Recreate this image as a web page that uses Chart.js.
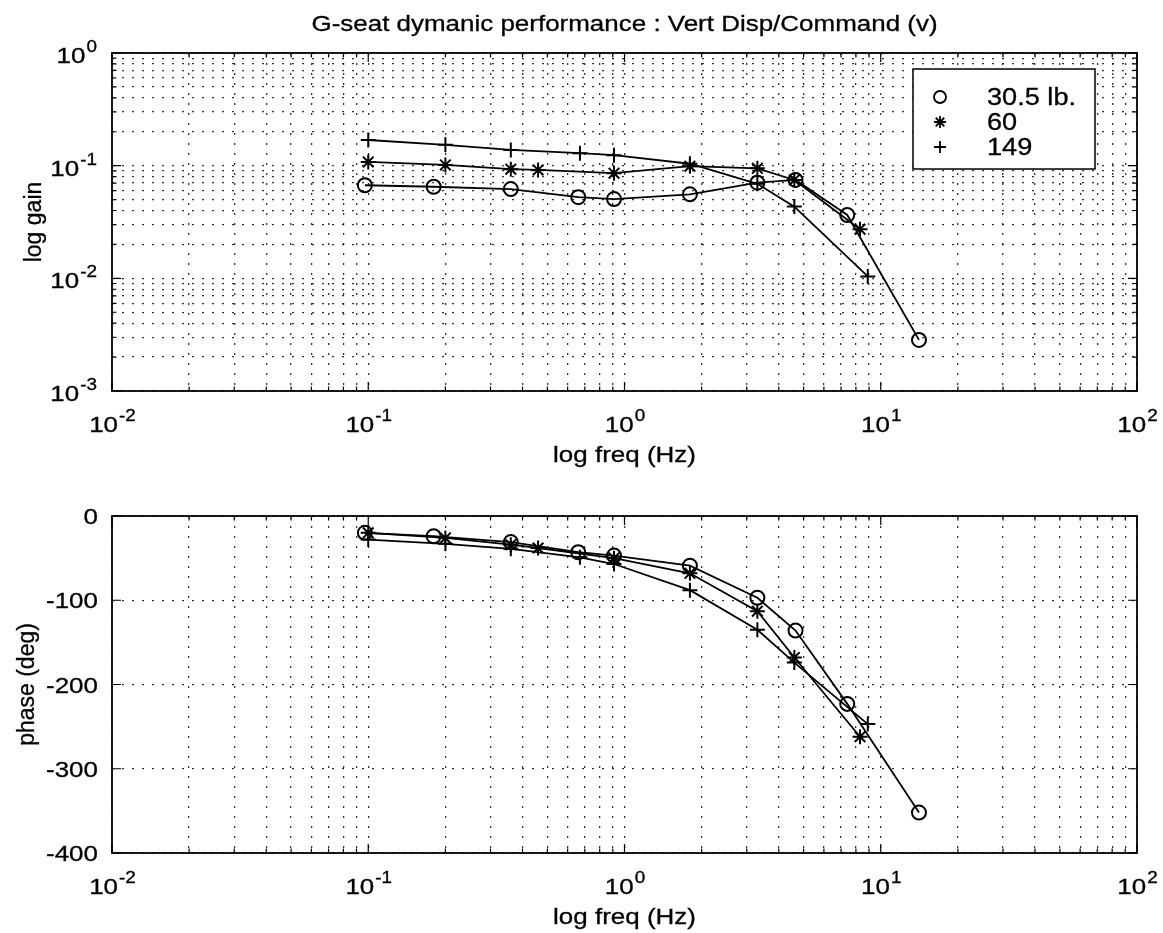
<!DOCTYPE html>
<html>
<head>
<meta charset="utf-8">
<title>G-seat dymanic performance</title>
<script src="https://cdn.jsdelivr.net/npm/chart.js@4.4.1/dist/chart.umd.min.js"></script>
<style>
  html, body { margin: 0; padding: 0; background: #fff; }
  #wrap { position: relative; width: 1163px; height: 933px; }
  canvas { position: absolute; left: 0; top: 0; }
</style>
</head>
<body>
<div id="wrap">
  <canvas id="gainChart" width="1163" height="933"></canvas>
  <canvas id="phaseChart" width="1163" height="933"></canvas>
</div>
<script>
// ---- data ----
const seriesLabels = ['30.5 lb.', '60', '149'];

const freq30 = [0.097, 0.18, 0.36, 0.66, 0.91, 1.8, 3.3, 4.65, 7.4, 14.1];
const gain30 = [0.067, 0.065, 0.062, 0.0525, 0.0505, 0.0557, 0.0706, 0.0747, 0.0365, 0.00284];
const phase30 = [-20, -24, -31, -43, -47, -59, -97, -136, -223, -352];

const freq60 = [0.1, 0.2, 0.36, 0.46, 0.91, 1.8, 3.3, 4.6, 8.3];
const gain60 = [0.108, 0.1015, 0.093, 0.0916, 0.0857, 0.099, 0.0948, 0.0747, 0.0273];
const phase60 = [-20, -26, -34, -38, -50, -68, -113, -168, -262];

const freq149 = [0.1, 0.2, 0.36, 0.67, 0.91, 1.8, 3.3, 4.6, 8.9];
const gain149 = [0.169, 0.153, 0.138, 0.129, 0.124, 0.104, 0.069, 0.0433, 0.0104];
const phase149 = [-28, -33, -39, -49, -57, -88, -135, -174, -247];

// tick labels
const freqExponents = [-2, -1, 0, 1, 2];
const gainExponents = [-3, -2, -1, 0];
const phaseTicks = [0, -100, -200, -300, -400];

const FONT = '"Liberation Sans", Arial, Helvetica, sans-serif';
const SX = 1.18; // the scanned text is a bit wider than it is tall

// grid positions 1..9 x 10^n for a log axis
function logGrid(e0, e1) {
    const out = [];
    for (let e = e0; e < e1; e++) {
        for (let d = 1; d <= 9; d++) out.push(d * Math.pow(10, e));
    }
    out.push(Math.pow(10, e1));
    return out;
}

function isDecade(v) {
    const l = Math.log10(v);
    return Math.abs(l - Math.round(l)) < 1e-9;
}

function series(label, freqs, vals, style, radius) {
    return {
        label: label,
        data: freqs.map((f, i) => ({ x: f, y: vals[i] })),
        showLine: true,
        borderColor: '#000',
        backgroundColor: 'rgba(0,0,0,0)',
        borderWidth: 1.8,
        pointStyle: style,
        pointRadius: radius,
        pointBorderWidth: 2,
        pointBorderColor: '#000',
        pointBackgroundColor: 'rgba(0,0,0,0)',
        tension: 0
    };
}

// horizontal text, stretched a little in x and slightly heavier
function text(ctx, str, x, y, size, align) {
    ctx.save();
    ctx.translate(x, y);
    ctx.scale(SX, 1);
    ctx.font = size + 'px ' + FONT;
    ctx.textAlign = align;
    ctx.textBaseline = 'alphabetic';
    ctx.lineWidth = 0.3;
    ctx.strokeStyle = '#000';
    ctx.fillText(str, 0, 0);
    ctx.strokeText(str, 0, 0);
    ctx.restore();
}

// "10" with a raised exponent
function drawPow(ctx, exp, x, y, align) {
    ctx.font = '22px ' + FONT;
    const wb = ctx.measureText('10').width * SX;
    ctx.font = '16px ' + FONT;
    const we = ctx.measureText(exp).width * SX;
    const x0 = align === 'center' ? x - (wb + we) / 2 : x - wb - we;
    text(ctx, '10', x0, y, 22, 'left');
    text(ctx, exp, x0 + wb + 1, y - 11, 16, 'left');
}

// box, inward ticks, labels and legend, matlab style
const framePlugin = {
    id: 'frame',
    afterDraw(chart, args, opts) {
        const ctx = chart.ctx;
        const a = chart.chartArea;
        const xs = chart.scales.x;
        const ys = chart.scales.y;
        ctx.save();
        ctx.fillStyle = '#000';
        ctx.strokeStyle = '#000';

        ctx.lineWidth = 1.2;
        ctx.beginPath();
        xs.ticks.forEach(t => {
            const px = xs.getPixelForValue(t.value);
            const len = isDecade(t.value) ? 9 : 4.5;
            ctx.moveTo(px, a.bottom); ctx.lineTo(px, a.bottom - len);
            ctx.moveTo(px, a.top); ctx.lineTo(px, a.top + len);
        });
        ys.ticks.forEach(t => {
            const py = ys.getPixelForValue(t.value);
            const len = (opts.logY && !isDecade(t.value)) ? 4.5 : 9;
            ctx.moveTo(a.left, py); ctx.lineTo(a.left + len, py);
            ctx.moveTo(a.right, py); ctx.lineTo(a.right - len, py);
        });
        ctx.stroke();

        ctx.lineWidth = 1.8;
        ctx.strokeRect(a.left, a.top, a.right - a.left, a.bottom - a.top);

        // x tick labels
        freqExponents.forEach(e => {
            drawPow(ctx, String(e), xs.getPixelForValue(Math.pow(10, e)), a.bottom + 41, 'center');
        });

        // y tick labels
        if (opts.logY) {
            gainExponents.forEach(e => {
                drawPow(ctx, String(e), a.left - 16, ys.getPixelForValue(Math.pow(10, e)) + 10, 'right');
            });
        } else {
            phaseTicks.forEach(v => {
                text(ctx, String(v), a.left - 14, ys.getPixelForValue(v) + 8, 22, 'right');
            });
        }

        // axis titles
        text(ctx, opts.xTitle, (a.left + a.right) / 2, a.bottom + 71, 22, 'center');
        ctx.save();
        ctx.translate(opts.yTitleX, (a.top + a.bottom) / 2);
        ctx.rotate(-Math.PI / 2);
        ctx.font = '23px ' + FONT;
        ctx.textAlign = 'center';
        ctx.textBaseline = 'middle';
        ctx.lineWidth = 0.3;
        ctx.fillText(opts.yTitle, 0, 0);
        ctx.strokeText(opts.yTitle, 0, 0);
        ctx.restore();

        if (opts.title) {
            text(ctx, opts.title, (a.left + a.right) / 2, 31, 22, 'center');
        }

        if (opts.legend) {
            const bx = 913, by = 69, bw = 182, bh = 100;
            ctx.fillStyle = '#fff';
            ctx.fillRect(bx, by, bw, bh);
            ctx.lineWidth = 1.5;
            ctx.strokeRect(bx, by, bw, bh);
            chart.data.datasets.forEach((ds, i) => {
                const y = by + 28 + i * 25;
                ctx.lineWidth = 1.8;
                ctx.fillStyle = 'rgba(0,0,0,0)';
                Chart.helpers.drawPoint(ctx, { pointStyle: ds.pointStyle, radius: 6, rotation: 0, borderWidth: 1.8 }, 940, y);
                ctx.fillStyle = '#000';
                text(ctx, ds.label, 987, y + 8, 23, 'left');
            });
        }
        ctx.restore();
    }
};

function axisX() {
    return {
        type: 'logarithmic',
        min: 0.01,
        max: 100,
        afterBuildTicks: s => { s.ticks = logGrid(-2, 2).map(v => ({ value: v })); },
        afterFit: s => { s.height = 0; },
        ticks: { display: false },
        grid: { color: 'rgba(0,0,0,0.8)', lineWidth: 1.3, drawTicks: false },
        border: { display: false, dash: [2, 8] }
    };
}

function createGainChart() {
    const ctx = document.getElementById('gainChart').getContext('2d');
    new Chart(ctx, {
        type: 'scatter',
        data: {
            datasets: [
                series(seriesLabels[0], freq30, gain30, 'circle', 7),
                series(seriesLabels[1], freq60, gain60, 'star', 7.5),
                series(seriesLabels[2], freq149, gain149, 'cross', 7.5)
            ]
        },
        options: {
            responsive: false,
            animation: false,
            layout: { padding: { left: 112, right: 26, top: 53, bottom: 542 } },
            scales: {
                x: axisX(),
                y: {
                    type: 'logarithmic',
                    min: 0.001,
                    max: 1,
                    afterBuildTicks: s => { s.ticks = logGrid(-3, 0).map(v => ({ value: v })); },
                    afterFit: s => { s.width = 0; },
                    ticks: { display: false },
                    grid: { color: 'rgba(0,0,0,0.8)', lineWidth: 1.3, drawTicks: false },
                    border: { display: false, dash: [2, 8] }
                }
            },
            plugins: {
                legend: { display: false },
                tooltip: { enabled: false },
                frame: {
                    logY: true,
                    xTitle: 'log freq (Hz)',
                    yTitle: 'log gain',
                    yTitleX: 35,
                    title: 'G-seat dymanic performance : Vert Disp/Command (v)',
                    legend: true
                }
            }
        },
        plugins: [framePlugin]
    });
}

function createPhaseChart() {
    const ctx = document.getElementById('phaseChart').getContext('2d');
    new Chart(ctx, {
        type: 'scatter',
        data: {
            datasets: [
                series(seriesLabels[0], freq30, phase30, 'circle', 7),
                series(seriesLabels[1], freq60, phase60, 'star', 7.5),
                series(seriesLabels[2], freq149, phase149, 'cross', 7.5)
            ]
        },
        options: {
            responsive: false,
            animation: false,
            layout: { padding: { left: 112, right: 26, top: 516, bottom: 80 } },
            scales: {
                x: axisX(),
                y: {
                    type: 'linear',
                    min: -400,
                    max: 0,
                    ticks: { display: false, stepSize: 100 },
                    afterFit: s => { s.width = 0; },
                    grid: { color: 'rgba(0,0,0,0.8)', lineWidth: 1.3, drawTicks: false },
                    border: { display: false, dash: [2, 8] }
                }
            },
            plugins: {
                legend: { display: false },
                tooltip: { enabled: false },
                frame: {
                    logY: false,
                    xTitle: 'log freq (Hz)',
                    yTitle: 'phase (deg)',
                    yTitleX: 28
                }
            }
        },
        plugins: [framePlugin]
    });
}

createGainChart();
createPhaseChart();
</script>
</body>
</html>
